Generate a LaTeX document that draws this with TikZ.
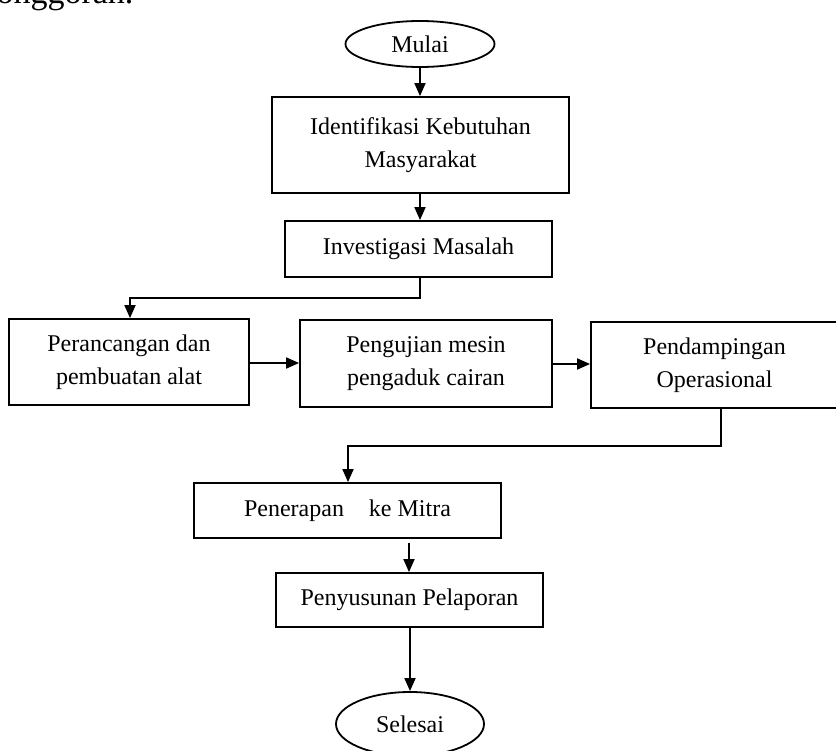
\documentclass[tikz,border=0pt]{standalone}
\usepackage{fontspec}
\setmainfont{Liberation Serif}
\usetikzlibrary{shapes.geometric,arrows.meta}
\begin{document}
\begin{tikzpicture}[x=1pt,y=-1pt,
  font=\fontsize{24}{33}\selectfont,
  box/.style={draw, line width=1.8pt, rectangle, align=center, inner sep=0pt},
  oval/.style={draw, line width=1.8pt, ellipse, inner sep=0pt},
  conn/.style={line width=1.8pt, -{Triangle[length=13pt,width=11pt]}}]
\useasboundingbox (0,0) rectangle (836,751);
\node[anchor=base west, font=\fontsize{34}{36}\selectfont] (top) at (-24,4) {bonggoran.};
\node[oval, minimum width=149pt, minimum height=46pt] (mulai) at (420,44) {Mulai};
\node[box, minimum width=297pt, minimum height=96pt] (ident) at (420.5,145) {Identifikasi Kebutuhan\\Masyarakat};
\node[box, minimum width=267pt, minimum height=56pt] (invest) at (418.5,249) {Investigasi Masalah};
\node[box, minimum width=240pt, minimum height=86pt] (peran) at (129,362) {Perancangan dan\\pembuatan alat};
\node[box, minimum width=252pt, minimum height=87pt] (peng) at (426,363.5) {Pengujian mesin\\pengaduk cairan};
\node[box, minimum width=247pt, minimum height=86pt] (pend) at (714.5,365) {Pendampingan\\Operasional};
\node[box, minimum width=307pt, minimum height=55pt] (pener) at (347.5,510.5) {Penerapan\hspace{25pt}ke Mitra};
\node[box, minimum width=267pt, minimum height=54pt] (penyu) at (409.5,600) {Penyusunan Pelaporan};
\node[oval, minimum width=148pt, minimum height=64pt] (selesai) at (410,724) {Selesai};
\coordinate (c1) at (420,298);
\coordinate (c2) at (130,298);
\coordinate (c3) at (721,446);
\coordinate (c4) at (348,446);
\draw[conn] (mulai.south) -- (mulai.south |- ident.north);
\draw[conn] (ident.south -| mulai.south) -- (mulai.south |- invest.north);
\draw[conn] (c1 |- invest.south) -- (c1) -- (c2) -- (c2 |- peran.north);
\draw[conn] (peran.east |- 0,363) -- (peng.west |- 0,363);
\draw[conn] (peng.east |- 0,364) -- (pend.west |- 0,364);
\draw[conn] (c3 |- pend.south) -- (c3) -- (c4) -- (c4 |- pener.north);
\draw[conn, shorten <=4pt] (409,0 |- pener.south) -- (409,0 |- penyu.north);
\draw[conn] (selesai.north |- penyu.south) -- (selesai.north);
\end{tikzpicture}
\end{document}
